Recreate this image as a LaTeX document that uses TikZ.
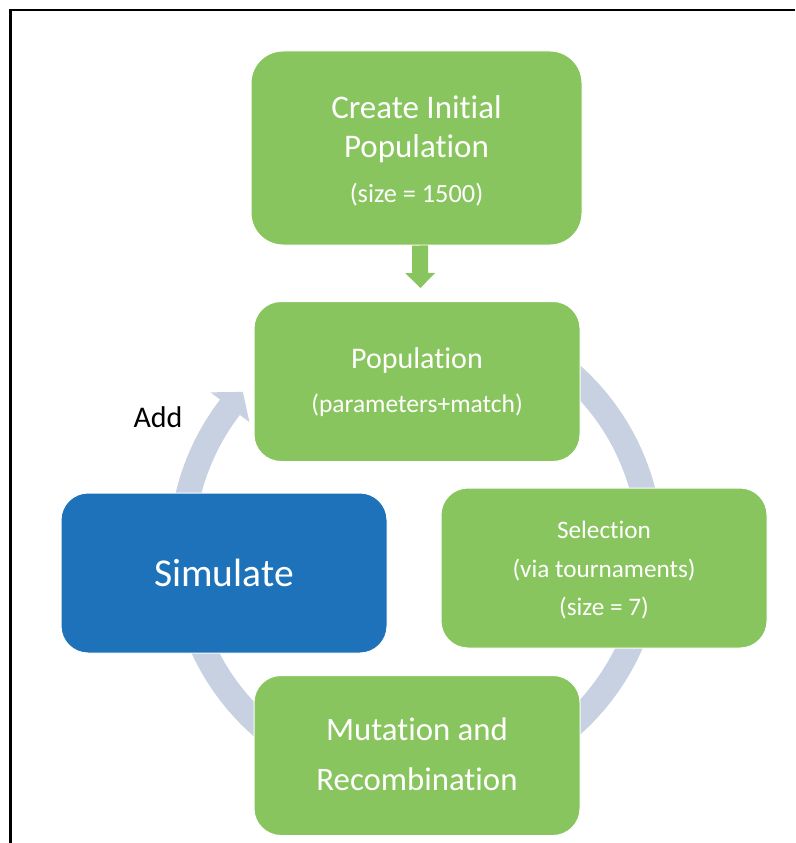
\documentclass[tikz,border=0pt]{standalone}
\usepackage{fontspec}
\setmainfont[Ligatures={NoCommon}]{Carlito}
\usetikzlibrary{arrows.meta}
\definecolor{boxgreen}{RGB}{137,197,94}
\definecolor{boxblue}{RGB}{30,114,186}
\definecolor{ringcol}{RGB}{199,209,226}
\begin{document}
\begin{tikzpicture}[x=1pt,y=-1pt,
  box/.style={draw=white, line width=1pt, fill=boxgreen, rounded corners=27pt,
              minimum width=326pt, minimum height=160pt, inner sep=0pt},
  txt/.style={text=white, inner sep=0pt, align=center},
  ring/.style={draw=ringcol, line width=25pt},
  fs/.style args={#1/#2}{font=\fontsize{#1}{#2}\selectfont}]
\useasboundingbox (0,0) rectangle (795,843);
\fill[white] (0,0) rectangle (795,843);
\draw[line width=2.2pt] (10.5,843) -- (10.5,10) -- (795,10);
\coordinate (cen) at (416,550);
\begin{scope}[shift={(cen)}]
  \draw[ring] plot[domain=285:360,samples=60] (\x:234.5);
  \draw[ring] plot[domain=10:80,samples=60] (\x:234.5);
  \draw[ring] plot[domain=100:170,samples=60] (\x:234.5);
  \draw[ring] plot[domain=185:218,samples=60] (\x:234.5);
  \fill[ringcol] (217.5:259) -- (222.4:234.5) -- (217.5:210) -- cycle;
\end{scope}
% boxes
\node[box, rounded corners=32pt, minimum width=331pt, minimum height=194pt] (init) at (416.5,148) {};
\node[box] (pop) at (417,381.5) {};
\node[box] (sel) at (604,568) {};
\node[box, fill=boxblue] (sim) at (224,573) {};
\node[box] (mut) at (417,755.5) {};
% texts
\node[txt, fs=33/39] (initT) at ([yshift=-3pt]init.center)
  {Create Initial\\Population\\[6.5pt]{\fontsize{26.3}{30}\selectfont (size = 1500)}};
\node[txt, fs=30/44] (popT) at ([yshift=-1pt]pop.center)
  {Population\\{\fontsize{25.5}{30}\selectfont (parameters+match)}};
\node[txt, fs=25.2/38.5] (selT) at ([yshift=-2pt]sel.center) {Selection\\(via tournaments)\\(size = 7)};
\node[txt, fs=39.5/44] (simT) at (sim.center) {Simulate};
\node[txt, fs=32.8/49.5] (mutT) at ([yshift=1.5pt]mut.center) {Mutation and\\Recombination};
\node[font=\fontsize{30}{34}\selectfont, inner sep=0pt] (add) at (158,417) {Add};
\draw[boxgreen, line width=16pt, -{Triangle[width=29pt,length=15pt]}, shorten >=13pt]
  ([xshift=3.5pt]init.south) -- ([xshift=3.5pt]pop.north);
\end{tikzpicture}
\end{document}
